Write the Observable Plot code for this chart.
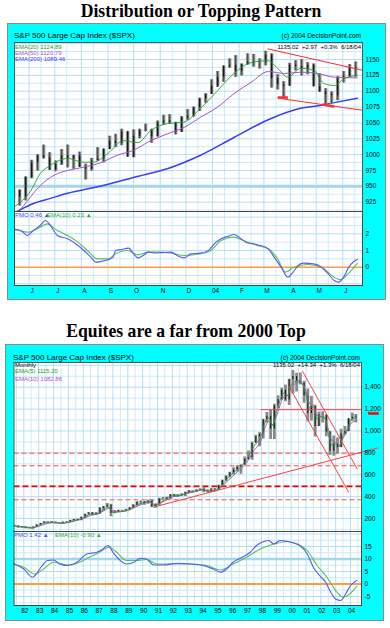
<!DOCTYPE html>
<html><head><meta charset="utf-8">
<script src="https://cdn.jsdelivr.net/npm/d3@7"></script>
<script src="https://cdn.jsdelivr.net/npm/@observablehq/plot@0.6"></script>
<style>
body{margin:0;background:#fff;width:390px;height:628px;position:relative;overflow:hidden;font-family:"Liberation Sans",Arial,sans-serif}
.box{position:absolute;background:#00ffff;border:1px solid #8a8a8a;box-sizing:border-box}
.t{position:absolute;line-height:1;white-space:pre}
.title{position:absolute;width:400px;text-align:center;font-family:"Liberation Serif","Times New Roman",serif;font-weight:bold;font-size:19px;line-height:1;white-space:nowrap;transform:scaleX(0.93)}
.panel{position:absolute}
.panel svg{overflow:visible}
</style></head><body>
<div class="box" style="left:7px;top:23px;width:379px;height:277px"></div>
<div class="box" style="left:5px;top:344px;width:379px;height:277px"></div>
<script>
// ---------------- DATA ----------------
const title1 = "Distribution or Topping Pattern";
const title2 = "Equites are a far from 2000 Top";
const header = "S&P 500 Large Cap Index ($SPX)";
const copyright = "(c) 2004 DecisionPoint.com";
const upperLegend = ["EMA(20) 1124.89", "EMA(50) 1120.79", "EMA(200) 1089.46"];
const upperQuote = "1135.02  +2.97  +0.3%  6/18/04";
const upperPmoLegend = ["PMO 0.46 \u25B2", "EMA(10) 0.23 \u25B2"];
const lowerLegend = ["Monthly", "EMA(5) 1115.20", "EMA(10) 1082.86"];
const lowerQuote = "1135.02  +14.34  +1.3%  6/18/04";
const lowerPmoLegend = ["PMO 1.42 \u25B2", "EMA(10) -0.90 \u25B2"];

const monthTicks = ["2003-06-01","2003-07-01","2003-08-01","2003-09-01","2003-10-01","2003-11-01","2003-12-01","2004-01-01","2004-02-01","2004-03-01","2004-04-01","2004-05-01","2004-06-01"];
const monthLabels = ["J","J","A","S","O","N","D","04","F","M","A","M","J"];
const upperPriceTicks = [925,950,975,1000,1025,1050,1075,1100,1125,1150];
const upperPmoTicks = [2,1,0];
const yearTicks = ["1982","1983","1984","1985","1986","1987","1988","1989","1990","1991","1992","1993","1994","1995","1996","1997","1998","1999","2000","2001","2002","2003","2004"];
const yearLabels = ["82","83","84","85","86","87","88","89","90","91","92","93","94","95","96","97","98","99","00","01","02","03","04"];
const lowerPriceTicks = [200,400,600,800,1000,1200,1400];
const lowerPmoTicks = [15,10,5,0,-5];

// weekly bars: [week ending, open, high, low, close]
const weeklyBars = [
["2003-05-16",933,947,929,944],["2003-05-23",944,944,919,933],["2003-05-30",933,965,927,964],
["2003-06-06",964,991,962,987],["2003-06-13",987,1000,974,998],["2003-06-20",998,1015,993,995],
["2003-06-27",995,1003,975,976],["2003-07-04",976,990,973,985],["2003-07-11",985,1008,983,998],
["2003-07-18",998,1015,979,993],["2003-07-25",993,999,977,998],["2003-08-01",998,1004,980,980],
["2003-08-08",980,985,960,977],["2003-08-15",977,994,974,990],["2003-08-22",990,1011,990,993],
["2003-08-29",993,1009,987,1008],["2003-09-05",1008,1029,1008,1021],["2003-09-12",1021,1032,1011,1018],
["2003-09-19",1018,1040,1014,1036],["2003-09-26",1036,1036,996,996],["2003-10-03",996,1039,995,1029],
["2003-10-10",1029,1040,1025,1038],["2003-10-17",1038,1048,1036,1039],["2003-10-24",1039,1040,1018,1028],
["2003-10-31",1028,1053,1028,1050],["2003-11-07",1050,1062,1046,1053],["2003-11-14",1053,1063,1048,1050],
["2003-11-21",1050,1051,1031,1035],["2003-11-28",1035,1060,1035,1058],["2003-12-05",1058,1071,1054,1061],
["2003-12-12",1061,1075,1059,1074],["2003-12-19",1074,1089,1068,1088],["2003-12-26",1088,1096,1081,1095],
["2004-01-02",1095,1118,1095,1108],["2004-01-09",1108,1131,1106,1122],["2004-01-16",1122,1140,1114,1139],
["2004-01-23",1139,1151,1136,1141],["2004-01-30",1141,1156,1122,1131],["2004-02-06",1131,1143,1124,1142],
["2004-02-13",1142,1159,1141,1146],["2004-02-20",1146,1158,1138,1145],["2004-02-27",1145,1151,1135,1145],
["2004-03-05",1145,1163,1140,1157],["2004-03-12",1157,1159,1105,1120],["2004-03-19",1120,1126,1102,1110],
["2004-03-26",1110,1115,1088,1108],["2004-04-02",1108,1144,1108,1141],["2004-04-09",1141,1148,1132,1139],
["2004-04-16",1139,1150,1124,1135],["2004-04-23",1135,1145,1126,1141],["2004-04-30",1141,1143,1107,1107],
["2004-05-07",1107,1127,1098,1099],["2004-05-14",1099,1104,1077,1095],["2004-05-21",1095,1099,1079,1093],
["2004-05-28",1093,1123,1085,1121],["2004-06-04",1121,1131,1113,1123],["2004-06-11",1123,1142,1122,1137],
["2004-06-18",1137,1146,1122,1135]];

const ema20 = [["2003-05-15",918],["2003-06-03",943],["2003-06-14",970],["2003-06-26",983],["2003-07-16",994],["2003-08-03",988],["2003-08-15",988],["2003-09-01",1002],["2003-09-19",1022],["2003-10-06",1019],["2003-10-21",1038],["2003-11-10",1049],["2003-11-28",1051],["2003-12-18",1073],["2004-01-07",1101],["2004-01-26",1128],["2004-02-15",1145],["2004-03-06",1148],["2004-03-17",1136],["2004-03-29",1122],["2004-04-13",1136],["2004-04-28",1133],["2004-05-10",1112],["2004-05-22",1109],["2004-06-03",1120],["2004-06-18",1125]];
const ema50 = [["2003-05-15",905],["2003-05-26",920],["2003-06-06",939],["2003-06-18",956],["2003-07-04",970],["2003-07-16",975],["2003-08-03",980],["2003-08-23",987],["2003-09-12",999],["2003-10-01",1007],["2003-10-21",1022],["2003-11-10",1033],["2003-11-29",1043],["2003-12-18",1059],["2004-01-07",1075],["2004-01-26",1096],["2004-02-15",1114],["2004-03-06",1131],["2004-03-25",1128],["2004-04-13",1130],["2004-05-03",1128],["2004-05-22",1122],["2004-06-18",1121]];
const ema200 = [["2003-05-15",908],["2003-06-06",923],["2003-06-26",931],["2003-07-16",939],["2003-08-23",950],["2003-10-01",964],["2003-11-10",978],["2003-12-18",999],["2004-01-26",1027],["2004-03-06",1055],["2004-04-13",1073],["2004-05-03",1077],["2004-05-22",1082],["2004-06-18",1089]];

const upperPmo = [["2003-05-15",2.25],["2003-05-22",2.2],["2003-05-30",1.9],["2003-06-06",2.2],["2003-06-14",2.5],["2003-06-20",2.8],["2003-06-26",2.5],["2003-07-04",1.9],["2003-07-16",1.7],["2003-07-28",1.3],["2003-08-04",1.0],["2003-08-12",0.6],["2003-08-18",0.3],["2003-08-24",0.34],["2003-09-01",0.44],["2003-09-07",0.6],["2003-09-10",1.0],["2003-09-16",1.05],["2003-09-25",1.14],["2003-10-01",0.8],["2003-10-06",0.56],["2003-10-12",0.7],["2003-10-18",0.9],["2003-10-25",0.85],["2003-11-02",0.87],["2003-11-13",0.9],["2003-11-23",0.64],["2003-11-29",0.56],["2003-12-07",0.8],["2003-12-18",0.84],["2003-12-28",1.04],["2004-01-03",1.4],["2004-01-11",1.7],["2004-01-19",1.85],["2004-01-26",1.96],["2004-02-01",1.8],["2004-02-09",1.5],["2004-02-18",1.4],["2004-02-26",1.3],["2004-03-06",1.1],["2004-03-13",0.6],["2004-03-21",0.0],["2004-03-29",-0.6],["2004-04-04",-0.3],["2004-04-10",0.1],["2004-04-16",0.24],["2004-04-28",0.2],["2004-05-07",0.0],["2004-05-15",-0.4],["2004-05-22",-0.8],["2004-05-27",-0.9],["2004-06-02",-0.6],["2004-06-08",0.0],["2004-06-14",0.34],["2004-06-18",0.46]];
const upperSignal = [["2003-05-15",2.3],["2003-05-30",2.1],["2003-06-14",2.4],["2003-06-22",2.6],["2003-07-04",2.2],["2003-07-16",1.9],["2003-07-28",1.5],["2003-08-08",1.0],["2003-08-20",0.5],["2003-09-01",0.5],["2003-09-10",0.8],["2003-09-24",1.0],["2003-10-06",0.74],["2003-10-18",0.9],["2003-11-02",0.9],["2003-11-13",0.85],["2003-11-29",0.7],["2003-12-18",0.8],["2003-12-30",1.0],["2004-01-11",1.6],["2004-01-26",1.8],["2004-02-06",1.6],["2004-02-22",1.3],["2004-03-06",1.1],["2004-03-17",0.5],["2004-03-26",-0.3],["2004-04-05",0.0],["2004-04-21",0.16],["2004-05-07",0.0],["2004-05-22",-0.6],["2004-05-29",-0.75],["2004-06-09",-0.3],["2004-06-18",0.23]];

// upper trend lines: [date1, price1, date2, price2]
const upperTrend = [["2004-03-05",1167,"2004-06-24",1133],["2004-03-18",1089,"2004-06-24",1070]];
const upperTouches = [["2004-03-17",1090,"2004-03-29",1090],["2004-05-08",1079,"2004-05-22",1076]];
const upperHighlight = [950];

// quarterly bars: [mid-quarter, open, high, low, close]
const quarterBars = [
["1981-05-15",136,138,128,131],["1981-08-15",131,133,112,116],["1981-11-15",116,127,112,122],
["1982-02-15",122,123,107,112],["1982-05-15",112,120,107,110],["1982-08-15",110,125,102,120],["1982-11-15",120,143,119,140],
["1983-02-15",140,155,138,153],["1983-05-15",153,171,151,168],["1983-08-15",168,170,159,166],["1983-11-15",166,172,161,164],
["1984-02-15",164,169,151,159],["1984-05-15",159,162,150,153],["1984-08-15",153,168,147,166],["1984-11-15",166,170,161,167],
["1985-02-15",167,183,163,181],["1985-05-15",181,193,175,191],["1985-08-15",191,196,180,182],["1985-11-15",182,212,180,211],
["1986-02-15",211,239,203,238],["1986-05-15",238,254,230,251],["1986-08-15",251,254,226,231],["1986-11-15",231,254,231,242],
["1987-02-15",242,301,242,291],["1987-05-15",291,310,266,304],["1987-08-15",304,337,300,322],["1987-11-15",322,329,216,247],
["1988-02-15",247,272,243,259],["1988-05-15",259,275,256,274],["1988-08-15",274,275,256,272],["1988-11-15",272,284,267,278],
["1989-02-15",278,300,275,295],["1989-05-15",295,327,294,318],["1989-08-15",318,354,316,349],["1989-11-15",349,360,331,353],
["1990-02-15",353,356,322,340],["1990-05-15",340,369,330,358],["1990-08-15",358,369,300,306],["1990-11-15",306,331,295,330],
["1991-02-15",330,384,311,375],["1991-05-15",375,391,368,371],["1991-08-15",371,395,370,387],["1991-11-15",387,418,372,417],
["1992-02-15",417,421,400,404],["1992-05-15",404,419,394,408],["1992-08-15",408,425,406,418],["1992-11-15",418,442,402,436],
["1993-02-15",436,456,429,452],["1993-05-15",452,454,434,451],["1993-08-15",451,463,438,459],["1993-11-15",459,471,458,466],
["1994-02-15",466,482,436,446],["1994-05-15",446,462,435,444],["1994-08-15",444,476,443,463],["1994-11-15",463,473,444,459],
["1995-02-15",459,504,459,501],["1995-05-15",501,551,500,545],["1995-08-15",545,591,541,584],["1995-11-15",584,622,573,616],
["1996-02-15",616,664,597,645],["1996-05-15",645,681,624,671],["1996-08-15",671,690,605,687],["1996-11-15",687,761,687,741],
["1997-02-15",741,818,737,757],["1997-05-15",757,899,733,885],["1997-08-15",885,961,891,947],["1997-11-15",947,983,855,970],
["1998-02-15",970,1106,927,1102],["1998-05-15",1102,1170,1074,1134],["1998-08-15",1134,1190,923,1017],["1998-11-15",1017,1244,923,1229],
["1999-02-15",1229,1321,1205,1287],["1999-05-15",1287,1391,1281,1373],["1999-08-15",1373,1421,1268,1283],["1999-11-15",1283,1473,1233,1469],
["2000-02-15",1469,1553,1339,1499],["2000-05-15",1499,1527,1356,1455],["2000-08-15",1455,1530,1420,1436],["2000-11-15",1436,1454,1254,1320],
["2001-02-15",1320,1384,1081,1160],["2001-05-15",1160,1316,1092,1224],["2001-08-15",1224,1236,945,1041],["2001-11-15",1041,1173,1040,1148],
["2002-02-15",1148,1176,1074,1147],["2002-05-15",1147,1147,948,990],["2002-08-15",990,994,776,815],["2002-11-15",815,954,768,880],
["2003-02-15",880,935,789,848],["2003-05-15",848,1015,847,975],["2003-08-15",975,1040,960,996],["2003-11-15",996,1112,996,1112],
["2004-02-15",1112,1163,1088,1126],["2004-05-10",1126,1150,1076,1135]];

const ema5m = [["1981-06",128],["1982-01",120],["1982-07",112],["1983-01",135],["1983-07",162],["1984-01",164],["1984-07",156],["1985-01",166],["1985-07",186],["1986-01",205],["1986-07",240],["1987-01",245],["1987-07",295],["1987-10",300],["1988-01",255],["1988-07",262],["1989-01",277],["1989-07",315],["1990-01",343],["1990-07",355],["1990-10",320],["1991-01",328],["1991-07",372],["1992-01",408],["1992-07",410],["1993-01",435],["1993-07",449],["1994-01",464],["1994-07",448],["1995-01",460],["1995-07",530],["1996-01",605],["1996-07",660],["1997-01",735],["1997-07",860],["1998-01",960],["1998-04",1080],["1998-07",1120],["1998-10",1050],["1999-01",1170],["1999-04",1275],["1999-07",1345],["1999-10",1325],["2000-01",1420],["2000-04",1450],["2000-07",1460],["2000-10",1430],["2001-01",1330],["2001-04",1210],["2001-07",1220],["2001-10",1110],["2002-01",1130],["2002-04",1120],["2002-07",980],["2002-10",870],["2003-01",880],["2003-04",860],["2003-07",955],["2003-10",1010],["2004-01",1090],["2004-04",1120],["2004-06",1115]];
const ema10m = [["1981-06",130],["1982-01",124],["1982-07",116],["1983-01",128],["1983-07",152],["1984-01",161],["1984-07",158],["1985-01",163],["1985-07",180],["1986-01",197],["1986-07",230],["1987-01",241],["1987-07",280],["1987-10",295],["1988-01",268],["1988-07",262],["1989-01",273],["1989-07",303],["1990-01",333],["1990-07",348],["1990-10",330],["1991-01",332],["1991-07",362],["1992-01",397],["1992-07",408],["1993-01",428],["1993-07",445],["1994-01",459],["1994-07",452],["1995-01",457],["1995-07",512],["1996-01",580],["1996-07",640],["1997-01",710],["1997-07",820],["1998-01",920],["1998-04",1030],["1998-07",1090],["1998-10",1060],["1999-01",1130],["1999-04",1230],["1999-07",1310],["1999-10",1320],["2000-01",1390],["2000-04",1430],["2000-07",1445],["2000-10",1435],["2001-01",1360],["2001-04",1250],["2001-07",1235],["2001-10",1140],["2002-01",1135],["2002-04",1125],["2002-07",1020],["2002-10",910],["2003-01",895],["2003-04",870],["2003-07",935],["2003-10",990],["2004-01",1060],["2004-04",1090],["2004-06",1083]];

const lowerPmo = [["1981-05",8.0],["1982-01",6.0],["1982-08",2.7],["1982-10",3.4],["1983-04",7.4],["1983-08",9.4],["1984-01",9.6],["1984-06",8.0],["1984-12",7.4],["1985-08",8.7],["1986-04",12.0],["1986-12",12.7],["1987-05",14.0],["1987-09",15.4],["1988-01",12.7],["1988-07",9.4],["1988-12",8.0],["1989-06",8.7],["1989-11",10.3],["1990-04",10.0],["1990-10",7.6],["1991-06",7.6],["1992-05",8.3],["1993-04",8.0],["1994-02",7.4],["1994-10",6.0],["1995-04",4.7],["1995-09",6.0],["1996-02",8.7],["1996-08",10.3],["1997-04",12.7],["1997-09",15.4],["1998-03",17.0],["1998-07",17.4],["1998-11",16.0],["1999-04",17.4],["1999-10",17.0],["2000-03",16.4],["2000-08",15.4],["2001-02",12.0],["2001-07",6.7],["2001-12",3.4],["2002-05",0.7],["2002-09",-3.3],["2003-01",-6.0],["2003-05",-6.6],["2003-09",-4.0],["2004-01",-0.6],["2004-06",1.42]];
const lowerSignal = [["1981-05",8.0],["1982-01",6.7],["1982-10",4.0],["1983-05",6.0],["1984-01",8.7],["1984-12",7.6],["1985-10",8.7],["1986-06",10.7],["1987-02",12.7],["1987-10",14.7],["1988-04",12.7],["1988-12",9.4],["1989-08",9.4],["1990-04",9.8],["1991-01",8.0],["1992-02",8.0],["1993-04",8.0],["1994-05",7.4],["1995-04",5.6],["1996-02",8.0],["1997-01",10.7],["1997-12",14.0],["1998-11",16.0],["1999-10",17.0],["2000-06",16.0],["2001-02",13.4],["2001-10",7.4],["2002-06",2.7],["2003-02",-3.3],["2003-07",-5.3],["2004-01",-3.7],["2004-06",-0.9]];

const lowerTrend = [["1997-12-10",1195,"2004-09-25",1195],["2000-10-01",1550,"2004-06-15",651],["1999-11-01",1413,"2003-11-20",438],["1990-09-20",303,"2005-11-15",846]];
const lowerMarker = [["2005-03-10",1160,"2005-11-25",1160]];
const lowerDashed = [797,682,371];
const lowerDashedStrong = [493];
const lowerPmoHighlight = [10];

// ---------------- RENDER ----------------
const FONT = '"Liberation Sans", Arial, sans-serif';
const GRID = "#b2e0f4";
const GRID2 = "#cdebf8";
const date = s => new Date(s);
const pairs = a => a.map(([d, v]) => ({date: date(d), v}));
const links = a => a.map(([d1, v1, d2, v2]) => ({x1: date(d1), y1: v1, x2: date(d2), y2: v2}));

function txt(s, x, base, size, color, opts = {}) {
  const el = document.createElement("div");
  el.className = "t";
  el.textContent = s;
  el.style.fontSize = size + "px";
  el.style.color = color;
  el.style.top = (base - 0.8465 * size) + "px";
  el.style.left = x + "px";
  if (opts.end) el.style.transform = "translateX(-100%)";
  if (opts.bold) el.style.fontWeight = "bold";
  document.body.appendChild(el);
}
function title(s, cx, base) {
  const el = document.createElement("div");
  el.className = "title";
  el.textContent = s;
  el.style.left = (cx - 200) + "px";
  el.style.top = (base - 0.8375 * 19) + "px";
  document.body.appendChild(el);
}
function place(plot, left, top) {
  const d = document.createElement("div");
  d.className = "panel";
  d.style.left = left + "px";
  d.style.top = top + "px";
  d.appendChild(plot);
  document.body.appendChild(d);
}
const baseStyle = {background: "transparent", overflow: "visible", fontFamily: FONT, fontSize: "6.5px", color: "#000"};

// ---- Upper chart ----
const uDomain = [date("2003-05-15"), date("2004-06-24")];
const monthDates = monthTicks.map(date);
const monthMap = new Map(monthDates.map((d, i) => [+d, monthLabels[i]]));
const midMonths = d3.utcMonths(date("2003-05-01"), date("2004-07-01")).map(d => d3.utcDay.offset(d, 14));
const wk = weeklyBars.map(([d, o, h, l, c]) => ({date: d3.utcDay.offset(date(d), -2), o, h, l, c}));

place(Plot.plot({
  width: 378, height: 169, marginLeft: 7, marginRight: 23, marginTop: 0, marginBottom: 0,
  style: baseStyle,
  x: {type: "utc", domain: uDomain, axis: null},
  y: {domain: [910.3, 1176.8], axis: null},
  marks: [
    Plot.frame({fill: "white"}),
    Plot.gridX(midMonths, {stroke: GRID2, strokeOpacity: 1}),
    Plot.gridY(d3.range(912.5, 1176, 25), {stroke: GRID2, strokeOpacity: 1}),
    Plot.gridX(monthDates, {stroke: GRID, strokeOpacity: 1}),
    Plot.gridY(d3.range(925, 1176, 25), {stroke: GRID, strokeOpacity: 1}),
    Plot.ruleY(upperHighlight, {stroke: "#a4d6ee", strokeWidth: 3}),
    Plot.line(pairs(ema200), {x: "date", y: "v", stroke: "#3c3cff", strokeWidth: 1.5, curve: "monotone-x", clip: true}),
    Plot.ruleX(wk, {x: "date", y1: "l", y2: "h", stroke: "#939393", strokeWidth: 3.4, clip: true}),
    Plot.ruleX(wk, {x: "date", y1: "l", y2: "h", stroke: "#333", strokeWidth: 0.8, clip: true}),
    Plot.ruleX(wk, {x: "date", y1: "o", y2: "c", stroke: "#1a1a1a", strokeWidth: 1.4, clip: true}),
    Plot.line(pairs(ema50), {x: "date", y: "v", stroke: "#a850d0", strokeWidth: 1, curve: "monotone-x", clip: true}),
    Plot.line(pairs(ema20), {x: "date", y: "v", stroke: "#22a022", strokeWidth: 0.9, curve: "monotone-x", clip: true}),
    Plot.link(links(upperTrend), {x1: "x1", y1: "y1", x2: "x2", y2: "y2", stroke: "#ff3030", strokeWidth: 1.1}),
    Plot.link(links(upperTouches), {x1: "x1", y1: "y1", x2: "x2", y2: "y2", stroke: "#ff3030", strokeWidth: 2.6}),
    Plot.axisY(upperPriceTicks, {anchor: "right", tickSize: 0, tickPadding: 3, tickFormat: d => String(d), label: null, fontSize: 6.5}),
    Plot.frame({stroke: "#555"})
  ]
}), 7, 42);

place(Plot.plot({
  width: 378, height: 88, marginLeft: 7, marginRight: 23, marginTop: 0, marginBottom: 14,
  style: baseStyle,
  x: {type: "utc", domain: uDomain, axis: null},
  y: {domain: [-1.1, 3.34], axis: null},
  marks: [
    Plot.frame({fill: "white"}),
    Plot.gridX(midMonths, {stroke: GRID2, strokeOpacity: 1}),
    Plot.gridY([-0.5, 0.5, 1.5, 2.5], {stroke: GRID2, strokeOpacity: 1}),
    Plot.gridX(monthDates, {stroke: GRID, strokeOpacity: 1}),
    Plot.gridY([-1, 1, 2, 3], {stroke: GRID, strokeOpacity: 1}),
    Plot.ruleY([0], {stroke: "#ff9c4a", strokeWidth: 1.5}),
    Plot.line(pairs(upperSignal), {x: "date", y: "v", stroke: "#52c452", strokeWidth: 1.1, curve: "monotone-x", clip: true}),
    Plot.line(pairs(upperPmo), {x: "date", y: "v", stroke: "#5858ff", strokeWidth: 1.1, curve: "monotone-x", clip: true}),
    Plot.axisY(upperPmoTicks, {anchor: "right", tickSize: 0, tickPadding: 3, tickFormat: d => String(d), label: null, fontSize: 6.5}),
    Plot.axisX(monthDates, {anchor: "bottom", tickSize: 0, tickPadding: 3, dx: 3, tickFormat: d => monthMap.get(+d), label: null, fontSize: 6.5}),
    Plot.frame({stroke: "#444"})
  ]
}), 7, 211);

// ---- Lower chart ----
const lDomain = [date("1981-05-04"), date("2004-09-27")];
const yearDates = yearTicks.map(date);
const yearMap = new Map(yearDates.map((d, i) => [+d, yearLabels[i]]));
const midYears = d3.range(1981, 2005).map(y => new Date(Date.UTC(y, 6, 1)));
const qb = quarterBars.map(([d, o, h, l, c]) => ({date: date(d), o, h, l, c}));

place(Plot.plot({
  width: 378, height: 169, marginLeft: 8.5, marginRight: 22, marginTop: 0, marginBottom: 0,
  style: baseStyle,
  x: {type: "utc", domain: lDomain, axis: null},
  y: {domain: [81, 1626], axis: null},
  marks: [
    Plot.frame({fill: "white"}),
    Plot.gridX(midYears, {stroke: GRID2, strokeOpacity: 1}),
    Plot.gridY(d3.range(100, 1700, 200), {stroke: GRID2, strokeOpacity: 1}),
    Plot.gridX(yearDates, {stroke: GRID, strokeOpacity: 1}),
    Plot.gridY(d3.range(200, 1700, 200), {stroke: GRID, strokeOpacity: 1}),
    Plot.ruleY(lowerDashed, {stroke: "#ff4a4a", strokeWidth: 1, strokeDasharray: "5,3"}),
    Plot.ruleY(lowerDashedStrong, {stroke: "#ee0000", strokeWidth: 1.8, strokeDasharray: "6,3"}),
    Plot.ruleX(qb, {x: "date", y1: "l", y2: "h", stroke: "#8a8a8a", strokeWidth: 2.8, clip: true}),
    Plot.ruleX(qb, {x: "date", y1: "o", y2: "c", stroke: "#1a1a1a", strokeWidth: 1.1, clip: true}),
    Plot.line(pairs(ema10m), {x: "date", y: "v", stroke: "#a850d0", strokeWidth: 1, curve: "monotone-x", clip: true}),
    Plot.line(pairs(ema5m), {x: "date", y: "v", stroke: "#22a022", strokeWidth: 0.9, curve: "monotone-x", clip: true}),
    Plot.link(links(lowerTrend), {x1: "x1", y1: "y1", x2: "x2", y2: "y2", stroke: "#ff4040", strokeWidth: 1}),
    Plot.link(links(lowerMarker), {x1: "x1", y1: "y1", x2: "x2", y2: "y2", stroke: "#ff0000", strokeWidth: 2.5}),
    Plot.axisY(lowerPriceTicks, {anchor: "right", tickSize: 0, tickPadding: 3, tickFormat: d3.format(","), label: null, fontSize: 6.5}),
    Plot.frame({stroke: "#555"})
  ]
}), 5, 362);

place(Plot.plot({
  width: 378, height: 88, marginLeft: 8.5, marginRight: 22, marginTop: 0, marginBottom: 14,
  style: baseStyle,
  x: {type: "utc", domain: lDomain, axis: null},
  y: {domain: [-8.6, 21], axis: null},
  marks: [
    Plot.frame({fill: "white"}),
    Plot.gridX(midYears, {stroke: GRID2, strokeOpacity: 1}),
    Plot.gridY([-7.5, -2.5, 2.5, 7.5, 12.5, 17.5], {stroke: GRID2, strokeOpacity: 1}),
    Plot.gridX(yearDates, {stroke: GRID, strokeOpacity: 1}),
    Plot.gridY([-5, 5, 15, 20], {stroke: GRID, strokeOpacity: 1}),
    Plot.ruleY(lowerPmoHighlight, {stroke: "#a4d6ee", strokeWidth: 2.5}),
    Plot.ruleY([0], {stroke: "#ff9c4a", strokeWidth: 1.8}),
    Plot.line(pairs(lowerSignal), {x: "date", y: "v", stroke: "#52c452", strokeWidth: 1.1, curve: "monotone-x", clip: true}),
    Plot.line(pairs(lowerPmo), {x: "date", y: "v", stroke: "#5858ff", strokeWidth: 1.1, curve: "monotone-x", clip: true}),
    Plot.axisY(lowerPmoTicks, {anchor: "right", tickSize: 0, tickPadding: 3, tickFormat: d => String(d), label: null, fontSize: 6.5}),
    Plot.axisX(yearDates, {anchor: "bottom", tickSize: 0, tickPadding: 3, dx: 1, tickFormat: d => yearMap.get(+d), label: null, fontSize: 6.5}),
    Plot.frame({stroke: "#444"})
  ]
}), 5, 531);

// ---- Texts ----
title(title1, 200.5, 17.3);
title(title2, 186, 337.3);
txt(header, 14, 38.5, 8, "#000");
txt(copyright, 361, 38.5, 6.5, "#000", {end: true});
txt(upperLegend[0], 15, 49, 6, "#22a022");
txt(upperLegend[1], 15, 55, 6, "#a850d0");
txt(upperLegend[2], 15, 61, 6, "#3c3cff");
txt(upperQuote, 361, 49, 6, "#000", {end: true});
txt(upperPmoLegend[0], 15, 217.5, 6, "#4848ff");
txt(upperPmoLegend[1], 47, 217.5, 6, "#2cae2c");
txt(header, 13, 360.5, 8, "#000");
txt(copyright, 360, 360.5, 6.5, "#000", {end: true});
txt(lowerLegend[0], 15, 367, 6, "#000");
txt(lowerLegend[1], 15, 373.5, 6, "#22a022");
txt(lowerLegend[2], 15, 381, 6, "#a850d0");
txt(lowerQuote, 360, 367, 6, "#000", {end: true});
txt(lowerPmoLegend[0], 14, 537.5, 6, "#4848ff");
txt(lowerPmoLegend[1], 55, 537.5, 6, "#2cae2c");
</script>
</body></html>
